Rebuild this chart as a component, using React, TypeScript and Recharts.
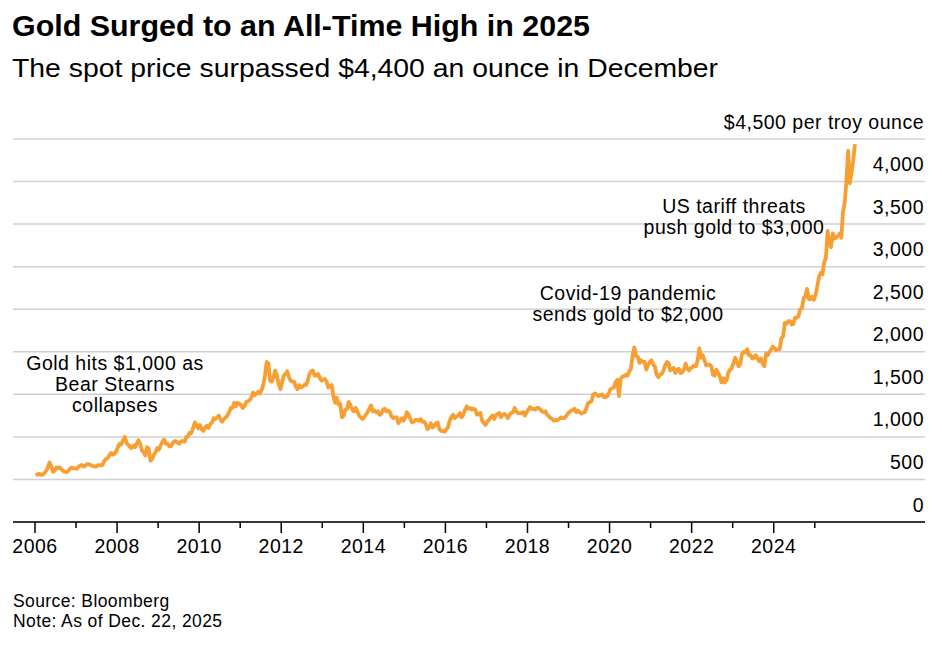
import React from 'react'
import { LineChart, Line, XAxis, YAxis, CartesianGrid } from 'recharts'

// spot gold, USD per troy ounce, two readings per month (1st half / 2nd half)
const years = [
  2006, 2007, 2008, 2009, 2010, 2011, 2012, 2013, 2014, 2015,
  2016, 2017, 2018, 2019, 2020, 2021, 2022, 2023, 2024, 2025,
]

const gold2006 = [545, 560, 568, 555, 555, 575, 600, 640, 700, 660, 590, 600, 640, 630, 640, 620, 600, 590, 585, 600, 625, 640, 630, 630]
const gold2007 = [625, 650, 665, 670, 650, 665, 680, 680, 670, 660, 655, 650, 665, 670, 665, 670, 715, 740, 750, 785, 810, 790, 800, 830]
const gold2008 = [880, 920, 910, 960, 1000, 930, 910, 880, 870, 900, 880, 920, 960, 920, 840, 820, 780, 880, 860, 720, 740, 790, 820, 870]
const gold2009 = [850, 900, 940, 970, 920, 920, 890, 890, 925, 950, 950, 930, 920, 950, 950, 945, 1000, 1005, 1050, 1045, 1110, 1170, 1130, 1100]
const gold2010 = [1140, 1090, 1070, 1110, 1130, 1105, 1150, 1170, 1220, 1210, 1230, 1250, 1200, 1180, 1210, 1230, 1250, 1290, 1340, 1340, 1400, 1360, 1400, 1390]
const gold2011 = [1370, 1340, 1360, 1410, 1420, 1430, 1460, 1520, 1490, 1510, 1530, 1510, 1550, 1610, 1720, 1880, 1860, 1660, 1650, 1700, 1780, 1720, 1620, 1560]
const gold2012 = [1640, 1720, 1740, 1770, 1700, 1660, 1650, 1650, 1590, 1560, 1610, 1580, 1590, 1610, 1610, 1660, 1740, 1770, 1780, 1720, 1720, 1740, 1700, 1660]
const gold2013 = [1670, 1680, 1650, 1580, 1590, 1610, 1480, 1400, 1460, 1380, 1390, 1230, 1250, 1320, 1330, 1410, 1370, 1320, 1300, 1340, 1300, 1250, 1230, 1210]
const gold2014 = [1230, 1260, 1290, 1330, 1370, 1300, 1310, 1290, 1300, 1260, 1270, 1320, 1330, 1300, 1310, 1290, 1240, 1220, 1230, 1230, 1160, 1190, 1220, 1190]
const gold2015 = [1230, 1290, 1260, 1210, 1170, 1180, 1200, 1200, 1190, 1210, 1180, 1180, 1150, 1090, 1110, 1160, 1110, 1130, 1160, 1170, 1090, 1070, 1070, 1060]
const gold2016 = [1090, 1110, 1190, 1230, 1260, 1220, 1240, 1250, 1280, 1230, 1260, 1320, 1360, 1330, 1340, 1320, 1330, 1320, 1260, 1270, 1280, 1190, 1160, 1140]
const gold2017 = [1180, 1200, 1230, 1250, 1210, 1250, 1270, 1280, 1230, 1260, 1270, 1250, 1220, 1260, 1280, 1290, 1340, 1300, 1280, 1280, 1280, 1290, 1250, 1290]
const gold2018 = [1320, 1350, 1330, 1330, 1320, 1340, 1340, 1320, 1300, 1290, 1300, 1260, 1240, 1220, 1210, 1190, 1200, 1195, 1210, 1230, 1220, 1220, 1240, 1270]
const gold2019 = [1290, 1310, 1315, 1330, 1290, 1310, 1290, 1275, 1285, 1290, 1340, 1400, 1410, 1420, 1500, 1510, 1500, 1480, 1490, 1500, 1470, 1465, 1475, 1510]
const gold2020 = [1560, 1570, 1580, 1640, 1670, 1480, 1680, 1710, 1710, 1730, 1720, 1770, 1800, 1960, 2050, 1950, 1940, 1870, 1900, 1880, 1880, 1790, 1840, 1880]
const gold2021 = [1900, 1850, 1830, 1730, 1700, 1730, 1740, 1780, 1840, 1880, 1870, 1780, 1800, 1810, 1750, 1790, 1800, 1750, 1760, 1790, 1860, 1800, 1780, 1810]
const gold2022 = [1820, 1840, 1830, 1900, 2040, 1930, 1960, 1900, 1840, 1850, 1850, 1830, 1730, 1720, 1790, 1750, 1710, 1640, 1690, 1640, 1670, 1760, 1790, 1810]
const gold2023 = [1870, 1930, 1880, 1830, 1860, 1980, 2000, 1990, 2030, 1960, 1960, 1920, 1930, 1960, 1920, 1890, 1920, 1860, 1830, 1980, 1960, 2000, 2030, 2060]
const gold2024 = [2040, 2020, 2030, 2030, 2160, 2180, 2340, 2330, 2360, 2360, 2320, 2330, 2400, 2400, 2420, 2500, 2510, 2630, 2650, 2740, 2620, 2620, 2650, 2610]
const gold2025 = [2670, 2770, 2880, 2930, 2910, 3050, 3100, 3420, 3260, 3230, 3390, 3330, 3340, 3360, 3390, 3340, 3640, 3750, 4000, 4360, 3980, 4100, 4250, 4440]

const yearlyPrices = [
  gold2006, gold2007, gold2008, gold2009, gold2010, gold2011, gold2012, gold2013, gold2014, gold2015,
  gold2016, gold2017, gold2018, gold2019, gold2020, gold2021, gold2022, gold2023, gold2024, gold2025,
]

const yTicks = [0, 500, 1000, 1500, 2000, 2500, 3000, 3500, 4000, 4500]
const xTicks = [
  2006, 2007, 2008, 2009, 2010, 2011, 2012, 2013, 2014, 2015,
  2016, 2017, 2018, 2019, 2020, 2021, 2022, 2023, 2024, 2025,
]

const data = years.flatMap((yr, i) =>
  yearlyPrices[i].map((price, k) => ({ t: yr + (k + 0.5) / 24, price }))
)

const FONT = '"Liberation Sans", Arial, Helvetica, sans-serif'
const GOLD = '#F89F33'

const XTick = (props: any) => {
  const { x, y, payload } = props
  const major = Math.round(payload.value) % 2 === 0
  return (
    <g>
      <line x1={x} x2={x} y1={y} y2={y + (major ? 11 : 6)} stroke="#000" strokeWidth={1.5} />
      {major && (
        <text x={x} y={y + 30.5} textAnchor="middle" fontFamily={FONT} fontSize={19.5} letterSpacing={0.5} fill="#000">
          {payload.value}
        </text>
      )}
    </g>
  )
}

// labels sit right-aligned just above their gridline
const YTick = (props: any) => {
  const { x, y, payload } = props
  const v: number = payload.value
  const label = v === 4500 ? '$4,500 per troy ounce' : v.toLocaleString('en-US')
  return (
    <text x={x - 1} y={y - 10.5} textAnchor="end" fontFamily={FONT} fontSize={19.5} letterSpacing={0.5} fill="#000">
      {label}
    </text>
  )
}

const noteStyle = { fontFamily: FONT, fontSize: 19.5, letterSpacing: 0.5, fill: '#000' }

export default function App() {
  return (
    <div style={{ position: 'absolute', left: 0, top: 0, width: 942, height: 647, background: '#fff' }}>
      <LineChart
        width={942}
        height={647}
        data={data}
        margin={{ top: 139, right: 16, bottom: 95, left: 13 }}
      >
        <CartesianGrid vertical={false} stroke="#d0d0d0" strokeWidth={1.5} />
        <XAxis
          dataKey="t"
          type="number"
          domain={[2005.464, 2027.686]}
          allowDataOverflow
          ticks={xTicks}
          interval={0}
          height={30}
          tickLine={false}
          tickSize={0}
          tickMargin={0}
          axisLine={{ stroke: '#000', strokeWidth: 1.5 }}
          tick={<XTick />}
        />
        <YAxis
          orientation="right"
          width={1}
          type="number"
          domain={[0, 4500]}
          ticks={yTicks}
          interval={0}
          axisLine={false}
          tickLine={false}
          tickSize={0}
          tickMargin={0}
          tick={<YTick />}
        />
        <Line
          type="linear"
          dataKey="price"
          stroke={GOLD}
          strokeWidth={3.8}
          strokeLinejoin="round"
          dot={false}
          activeDot={false}
          isAnimationActive={false}
        />
      </LineChart>

      <svg width={942} height={647} style={{ position: 'absolute', left: 0, top: 0, pointerEvents: 'none' }}>
        <text x={12} y={36} fontFamily={FONT} fontWeight="bold" fontSize={29.5} textLength={578} lengthAdjust="spacingAndGlyphs" fill="#000">
          Gold Surged to an All-Time High in 2025
        </text>
        <text x={12} y={77} fontFamily={FONT} fontSize={25} textLength={706} lengthAdjust="spacingAndGlyphs" fill="#000">
          The spot price surpassed $4,400 an ounce in December
        </text>

        <g textAnchor="middle">
          <text x={115} y={370} {...noteStyle}>Gold hits $1,000 as</text>
          <text x={115} y={391} {...noteStyle}>Bear Stearns</text>
          <text x={115} y={412} {...noteStyle}>collapses</text>

          <text x={628} y={300} {...noteStyle}>Covid-19 pandemic</text>
          <text x={628} y={321} {...noteStyle}>sends gold to $2,000</text>

          <text x={734} y={213} {...noteStyle}>US tariff threats</text>
          <text x={734} y={234} {...noteStyle}>push gold to $3,000</text>
        </g>

        <text x={13} y={607} fontFamily={FONT} fontSize={17.5} letterSpacing={0.4} fill="#000">
          Source: Bloomberg
        </text>
        <text x={13} y={627} fontFamily={FONT} fontSize={17.5} letterSpacing={0.4} fill="#000">
          Note: As of Dec. 22, 2025
        </text>
      </svg>
    </div>
  )
}
